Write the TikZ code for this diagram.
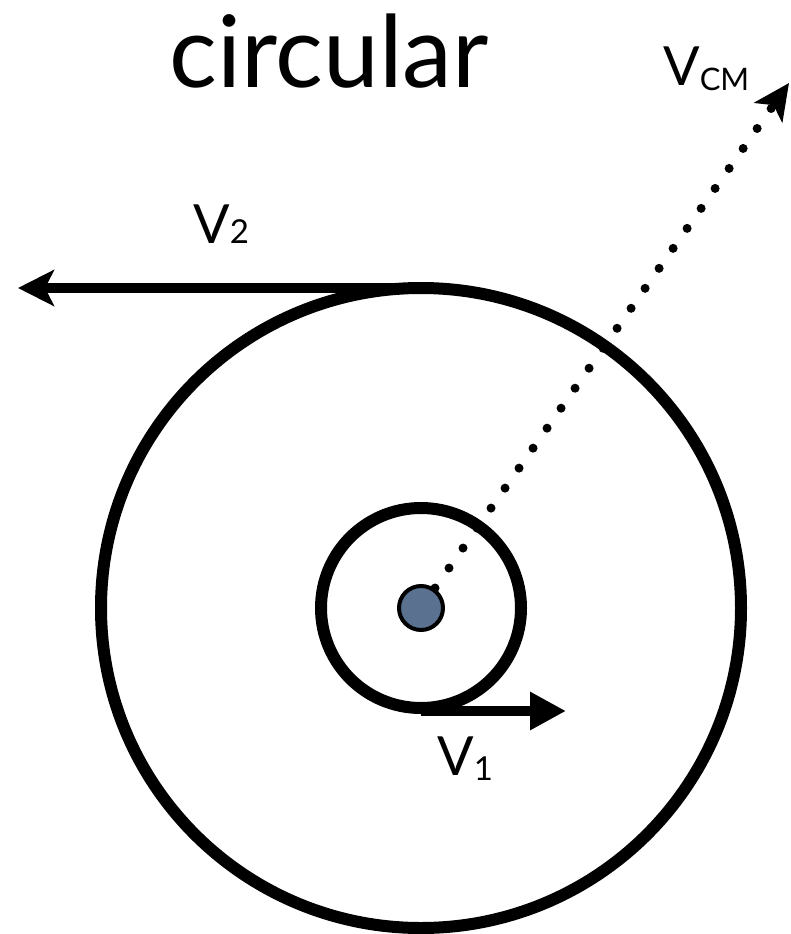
\documentclass[tikz,border=0pt]{standalone}
\usepackage{fontspec}
\setmainfont{Lato}
\usetikzlibrary{arrows.meta}
\definecolor{hubblue}{HTML}{5B7190}
\begin{document}
\begin{tikzpicture}[x=1pt,y=-1pt,
  ring/.style={draw=black,line width=12pt},
  vec/.style={draw=black,line width=10pt,-{Stealth[length=36pt,width=36pt,inset=9pt]}},
  trivec/.style={draw=black,line width=10pt,-{Triangle[length=36pt,width=36pt]}},
  dotvec/.style={draw=black,line width=9pt,line cap=round,dash pattern=on 0pt off 24.4pt,-{Stealth[length=36pt,width=34pt,inset=9pt]}},
  lbl/.style={inner sep=0pt,anchor=base west},
  bigV/.style={font=\fontsize{54}{60}\selectfont}]
\useasboundingbox[fill=white] (0,0) rectangle (791,934);
\coordinate (c) at (421,608);
\coordinate (top) at (421,288);
\coordinate (bot) at (421,711);
\coordinate (v2tip) at (18,288);
\coordinate (v1tip) at (566,711);
\coordinate (vcmtip) at (789,83);
\draw[ring] (c) circle[radius=320pt];
\draw[ring] (c) circle[radius=100pt];
\draw[vec] (top) -- (v2tip);
\draw[trivec] (bot) -- (v1tip);
\draw[dotvec] (c) -- (vcmtip);
\node[circle,draw=black,line width=4pt,fill=hubblue,minimum size=44pt,inner sep=0pt] (hub) at (c) {};
\node[inner sep=0pt,anchor=base,font=\fontsize{100}{110}\selectfont] (title) at (329,88) {circular};
\node[lbl,bigV] (lcm) at (663,85) {V\raisebox{-5pt}{\fontsize{31}{34}\selectfont CM}};
\node[lbl,bigV] (l2) at (193,243) {V{\fontsize{33}{36}\selectfont 2}};
\node[lbl,bigV] (l1) at (437,775) {V\raisebox{-5pt}{\fontsize{33}{36}\selectfont 1}};
\end{tikzpicture}
\end{document}
